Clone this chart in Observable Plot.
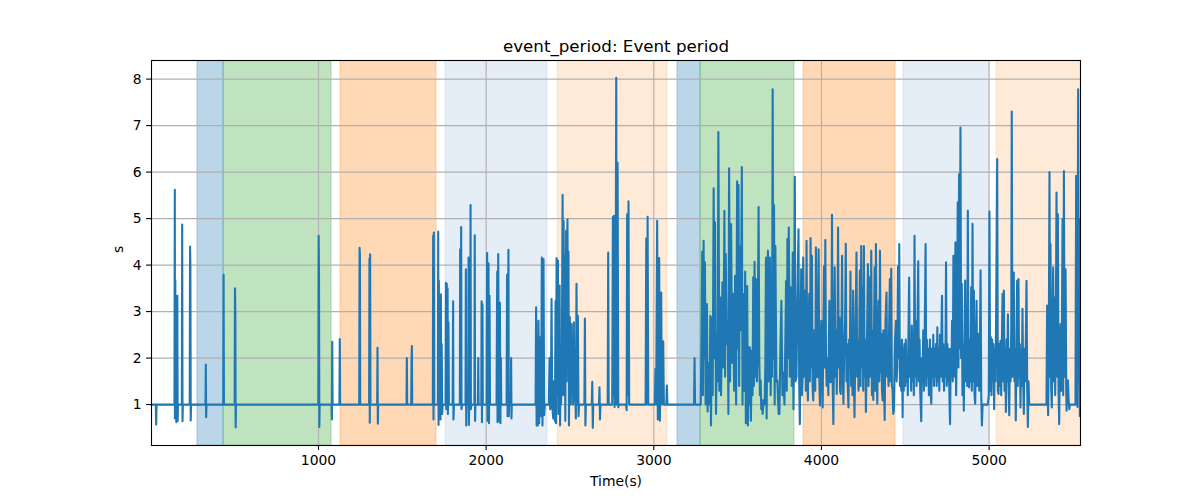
<!DOCTYPE html>
<html><head><meta charset="utf-8">
<script src="https://cdn.jsdelivr.net/npm/d3@7"></script>
<script src="https://cdn.jsdelivr.net/npm/@observablehq/plot@0.6"></script>
<style>body{margin:0;background:#fff;} svg{font-family:"DejaVu Sans",sans-serif;}</style>
</head><body><div id="chart"></div>
<script>
// Shaded periods (seconds)
const spanStarts = [278, 434, 1131, 1758, 2426, 3141, 3279, 3893, 4489, 5044];
const spanEnds   = [434, 1078, 1704, 2366, 3082, 3279, 3839, 4442, 5002, 5560];
const spanKinds  = ["A", "B", "C", "D", "E", "A", "B", "C", "D", "E"];
const kindNames  = ["A", "B", "C", "D", "E"];

const xTicks = [1000, 2000, 3000, 4000, 5000];
const yTicks = [1, 2, 3, 4, 5, 6, 7, 8];

// [time (s), event period (s)]
const seriesEarly = [
[4,1],[30,1],[32,0.57],[34,1],
[141,1],[143,5.62],[144,0.7],[146,3.68],[147,1],[151,1],[152,0.62],[154,2.87],[156,0.65],[158,3.34],[160,0.65],[162,1],
[185,1],[187,4.87],[189,0.64],[191,1],
[232,1],[234,4.40],[236,3.94],[238,0.66],[240,1],
[326,1],[328,1.86],[330,0.73],[332,1],
[432,1],[434,3.79],[436,1],
[500,1],[502,3.50],[504,2.98],[506,0.51],[508,1],
[999,1],[1001,4.63],[1003,3.81],[1005,0.52],[1007,1],
[1078,1],[1080,0.68],[1082,2.35],[1084,1],
[1125,1],[1127,2.41],[1129,1],
[1243,1],[1245,4.37],[1247,4.23],[1249,1],
[1302,1],[1304,4.14],[1306,0.61],[1308,4.23],[1310,1],
[1350,1],[1352,2.22],[1354,0.59],[1356,1],
[1525,1],[1527,2.0],[1529,1],
[1553,1],[1555,1.97],[1557,2.26],[1559,1],
[1682,1],[1684,4.63],[1686,0.68],[1688,4.70],[1690,1],
[1712,1],[1714,4.72],[1716,0.56],[1718,3.66],[1720,1.4],[1722,3.24],[1724,0.8],[1726,3.33],[1728,0.68],[1730,3.37],[1732,1.2],[1735,2.3],[1738,0.8],[1741,1],
[1758,1],[1760,3.62],[1762,0.9],[1765,3.6],[1768,1.5],[1770,3.5],[1772,0.8],[1775,2.77],[1778,1],
[1800,1],[1803,3.22],[1805,0.68],[1808,1],
[1843,1],[1845,4.34],[1848,1],[1851,4.82],[1853,0.9],[1856,1],
[1877,1],[1879,3.91],[1881,0.55],[1883,1],[1893,1],[1895,4.16],[1897,0.56],[1899,1],[1905,1],[1907,5.29],[1909,0.9],[1912,1],
[1930,1],[1932,4.64],[1934,0.65],[1936,1],
[1951,1],[1953,2.0],[1955,1],
[1971,1],[1973,3.22],[1975,0.62],[1978,3.16],[1980,1],
[2003,1],[2006,4.26],[2008,0.65],[2011,1.3],[2014,4.04],[2017,0.6],[2020,3.34],[2023,1],
[2062,1],[2066,3.86],[2068,0.62],[2072,4.24],[2075,2.0],[2078,0.65],[2082,3.19],[2085,0.6],[2088,2.0],[2090,1],
[2122,1],[2125,3.79],[2128,0.75],[2133,4.33],[2135,0.75],[2137,1],
[2147,1],[2149,2.0],[2151,0.7],[2153,1],
[2295,1],[2298,3.09],[2301,0.55],[2304,2.0],[2308,0.55],[2312,2.80],[2316,0.6],[2320,1.5],[2324,2.45],[2328,0.75],[2332,4.16],[2336,0.55],[2342,4.13],[2346,0.77],[2350,1],
[2374,1],[2378,2.0],[2382,0.9],[2386,1],[2390,3.27],[2394,1.0],[2400,0.7],[2404,1.5],[2410,0.65],[2414,3.23],[2417,0.6],[2420,4.15],[2424,1.2],[2428,4.1],[2431,0.8],[2434,2.5],[2438,3.56],[2441,0.55],[2444,2.0],[2447,1.0],[2452,2.3],[2456,5.51],[2459,1.2],[2462,4.95],[2465,2.0],[2469,4.2],[2472,0.65],[2477,4.74],[2480,1.5],[2485,4.98],[2488,2.4],[2491,4.29],[2494,0.55],[2499,2.88],[2502,1.8],[2505,1.0],[2509,2.73],[2512,1.3],[2516,2.2],[2519,1.0],[2523,2.77],[2527,1.1],[2531,1.3],[2535,0.7],[2539,3.6],[2543,1.0],[2547,2.91],[2551,0.75],[2554,1],
[2586,1],[2589,2.85],[2592,0.55],[2595,1],
[2630,1],[2633,1.49],[2636,0.5],[2639,1],
[2673,1],[2676,1.37],[2679,0.68],[2682,1],
[2725,1],[2728,4.27],[2731,1],[2752,1],[2756,5.04],[2759,1.2],[2762,5.06],[2766,0.95],[2771,1.3],[2776,8.03],[2779,1.0],[2784,6.2],[2788,0.94],[2792,1],
[2834,1],[2838,0.88],[2841,5.09],[2845,1.2],[2849,5.37],[2853,1],
[2951,1],[2955,4.57],[2959,1],[2963,5.04],[2967,1],
[3006,1],[3010,1.77],[3014,1],[3020,4.95],[3024,0.68],[3028,2.0],[3032,4.15],[3036,0.65],[3040,1.5],[3044,3.41],[3048,1.0],[3052,1.6],[3056,2.36],[3060,1],
[3075,1],[3078,1.41],[3081,1],
[3240,1],[3243,2.0],[3246,1],[3280,1]
];

const seriesGreen = [
[3285,2.5],[3289,4.29],[3293,1.2],[3297,4.52],[3301,2.0],[3305,4.06],[3309,1.0],[3313,2.6],[3317,3.16],[3321,0.85],[3325,1.9],[3329,1.6],[3333,1.0],[3337,2.91],[3341,0.55],[3347,2.87],[3351,1.2],[3357,5.65],[3361,2.0],[3365,4.92],[3371,0.8],[3377,2.5],[3381,1.5],[3385,6.86],[3391,1.3],[3397,3.3],[3401,1.2],[3405,2.2],[3409,3.63],[3415,1.8],[3421,5.17],[3425,1.6],[3429,4.24],[3435,2.3],[3441,2.79],[3445,0.8],[3449,6.08],[3455,1.5],[3461,4.88],[3467,1.9],[3473,3.38],[3479,1.3],[3485,3.77],[3491,1.0],[3497,5.80],[3501,2.2],[3505,5.72],[3509,1.4],[3513,4.4],[3519,2.6],[3525,6.11],[3529,1.0],[3533,3.38],[3539,1.3],[3545,3.86],[3549,0.6],[3553,2.0],[3557,3.55],[3561,0.55],[3565,2.23],[3569,1.0],[3573,2.23],[3579,0.65],[3585,2.16],[3589,1.2],[3593,3.74],[3597,1.4],[3601,4.07],[3605,1.6],[3609,3.70],[3615,1.5],[3620,2.6],[3625,5.25],[3629,2.0],[3633,1.2],[3637,1.52],[3641,0.9],[3645,1.1],[3649,0.8],[3653,0.98],[3657,1.1],[3661,1.0],[3665,1.8],[3669,4.16],[3673,0.7],[3677,3.0],[3681,4.31],[3685,1.5],[3689,3.0],[3693,4.16],[3697,1.2],[3701,2.5],[3705,1.6],[3709,7.78],[3713,2.0],[3717,5.29],[3721,1.0],[3725,4.41],[3731,1.5],[3737,1.52],[3741,1.1],[3745,0.8],[3749,0.8],[3755,2.2],[3761,3.23],[3767,1.2],[3773,1.69],[3779,1.0],[3785,2.5],[3789,3.66],[3793,1.3],[3797,4.56],[3801,2.0],[3805,4.81],[3811,1.6],[3817,3.52],[3823,1.4],[3829,4.27],[3833,0.9],[3837,2.5],[3841,5.90],[3845,1.5]
];

const seriesMid = [
[3851,1.6],[3855,2.94],[3863,4.77],[3867,1.5],[3871,0.58],[3875,2.2],[3879,3.91],[3883,1.2],[3887,1.52],[3891,4.16],[3897,1.6],[3903,3.45],[3907,1.3],[3911,4.52],[3915,2.0],[3919,1.09],[3923,2.4],[3927,3.38],[3931,1.5],[3935,4.58],[3939,1.8],[3943,4.2],[3947,1.4],[3951,1.09],[3955,2.6],[3959,2.23],[3963,1.3],[3967,4.38],[3971,1.8],[3975,1.59],[3979,2.8],[3983,4.34],[3987,1.5],[3991,0.98],[3995,2.2],[3999,2.80],[4003,1.6],[4007,0.94],[4011,2.5],[4015,3.97],[4019,1.8],[4023,4.54],[4027,2.0],[4031,1.4],[4035,2.0],[4041,1.2],[4047,3.23],[4051,1.6],[4055,1.48],[4059,2.4],[4063,5.08],[4067,1.4],[4071,0.58],[4075,2.2],[4079,3.95],[4083,1.6],[4087,2.6],[4091,1.23],[4095,2.2],[4099,4.81],[4103,1.8],[4107,2.87],[4111,1.3],[4115,1.23],[4119,2.4],[4123,4.2],[4127,1.7],[4131,1.02],[4135,2.0],[4141,2.8],[4145,4.46],[4149,1.5],[4153,2.30],[4157,1.4],[4161,0.94],[4165,2.4],[4169,1.8],[4173,3.86],[4177,1.4],[4181,2.66],[4185,1.2],[4189,3.45],[4193,1.8],[4197,0.73],[4203,2.5],[4209,4.27],[4213,1.6],[4217,2.37],[4221,1.3],[4225,2.2],[4229,3.88],[4233,1.4],[4237,4.41],[4241,1.8],[4245,3.52],[4249,1.3],[4253,4.41],[4257,1.6],[4261,2.4],[4265,0.84],[4271,2.2],[4277,4.02],[4281,1.4],[4285,3.74],[4289,1.6],[4293,2.2],[4297,4.31],[4301,1.2],[4305,2.59],[4309,1.1],[4313,2.4],[4317,3.95],[4321,1.3],[4325,4.45],[4329,1.8],[4333,1.02],[4337,2.5],[4341,3.23],[4345,1.5],[4349,4.31],[4353,1.7],[4357,2.52],[4361,1.3],[4365,1.09],[4369,2.6],[4373,1.4],[4377,0.67],[4382,2.8],[4388,3.41],[4392,1.6],[4396,2.30],[4400,1.4],[4404,2.8],[4408,3.70],[4412,1.5],[4416,3.92],[4420,1.4],[4424,1.33],[4428,0.8],[4432,0.87],[4438,2.3],[4444,2.80],[4448,1.5],[4452,1.8],[4456,3.97],[4460,2.0],[4464,4.45],[4468,1.4],[4472,1.80],[4476,1.3],[4480,2.4],[4484,0.73],
[4487,2.2],[4491,1.3],[4495,2.30],[4499,1.4],[4503,2.4],[4507,1.5],[4511,2.0],[4515,1.2],[4519,2.6],[4523,3.73],[4527,1.6],[4531,2.2],[4535,1.3],[4539,2.7],[4543,1.5],[4547,2.4],[4551,1.2],[4555,4.63],[4559,1.6],[4563,2.8],[4567,1.4],[4571,2.2],[4577,4.08],[4581,1.5],[4585,2.4],[4589,1.3],[4595,0.64],[4599,2.0],[4603,1.5],[4607,2.6],[4611,1.3],[4615,2.2],[4621,4.45],[4625,1.4],[4629,2.4],[4633,1.6],[4637,2.2],[4641,1.2],[4647,2.4],[4651,1.3],[4655,1.02],[4659,2.2],[4663,1.6],[4667,2.5],[4671,1.4],[4675,2.2],[4679,1.6],[4683,2.3],[4687,1.4],[4691,2.66],[4695,1.5],[4699,2.2],[4703,1.3],[4707,2.5],[4711,1.6],[4715,2.4],[4719,3.34],[4723,1.5],[4727,2.3],[4731,1.3],[4735,2.2],[4739,1.6],[4743,4.06],[4747,1.4],[4751,2.3],[4755,1.5],[4759,2.2],[4763,1.2],[4767,0.58],[4771,2.2],[4775,1.6],[4779,2.8],[4783,1.5],[4787,4.2],[4791,1.6],[4795,2.4],[4799,4.49],[4803,1.2],[4807,2.2]
];

const seriesLate = [
[4813,5.35],[4817,1.8],[4821,5.95],[4825,2.2],[4829,6.96],[4833,2.0],[4837,3.6],[4841,1.2],[4845,2.3],[4849,0.87],[4853,2.4],[4857,3.67],[4861,1.5],[4865,2.66],[4869,1.4],[4873,5.17],[4877,1.6],[4881,1.37],[4885,2.4],[4889,1.5],[4893,3.52],[4897,1.3],[4901,4.89],[4905,1.5],[4909,3.45],[4913,1.2],[4917,1.02],[4921,2.2],[4925,3.23],[4929,1.4],[4933,2.4],[4937,2.52],[4941,1.3],[4945,2.2],[4949,3.89],[4953,1.2],[4957,0.55],[4961,1.0],[4969,1],[4992,1],
[4998,1.2],[5002,5.15],[5006,1.3],[5010,2.45],[5014,1.2],[5018,2.4],[5022,1.5],[5026,2.3],[5030,0.9],[5034,2.2],[5038,1.5],[5042,3.0],[5048,6.28],[5052,1.3],[5056,1.23],[5060,2.3],[5064,1.4],[5068,2.37],[5072,1.2],[5076,2.3],[5080,3.38],[5084,1.5],[5088,3.45],[5092,1.3],[5096,2.2],[5100,0.84],[5104,2.4],[5108,1.5],[5112,2.94],[5116,1.4],[5120,0.77],[5124,2.2],[5128,1.5],[5132,2.6],[5135,7.30],[5139,1.6],[5143,2.4],[5147,3.84],[5151,1.5],[5155,2.2],[5159,0.66],[5163,2.2],[5167,3.66],[5171,1.4],[5175,3.70],[5179,1.6],[5183,2.3],[5187,0.94],[5191,2.2],[5195,1.4],[5199,3.06],[5203,1.5],[5207,0.80],[5211,2.2],[5215,1.5],[5219,2.4],[5223,3.66],[5227,1.4],[5231,0.52],[5235,1.5],[5239,1.0],
[5342,1.0],[5346,3.13],[5350,1.2],[5352,0.77],[5356,2.4],[5360,6.0],[5364,1.6],[5366,4.45],[5370,1.4],[5374,0.94],[5378,2.6],[5382,3.95],[5386,1.5],[5390,3.30],[5394,1.2],[5398,2.8],[5402,5.56],[5406,1.6],[5410,5.09],[5414,1.3],[5418,0.58],[5422,2.2],[5426,2.73],[5430,1.3],[5434,2.5],[5438,4.99],[5442,1.2],[5446,6.02],[5450,1.6],[5456,3.91],[5460,1.3],[5462,0.87],[5466,1.5],[5470,1.52],[5474,1.1],[5478,0.9],[5482,1.0],
[5515,1.0],[5519,5.92],[5523,1.2],[5527,0.95],[5531,7.78],[5535,1.5],[5539,4.99],[5541,0.75],[5546,1.2]
];

const series = [...seriesEarly, ...seriesGreen, ...seriesMid, ...seriesLate].map(([t, v]) => ({t, v}));
const spans = spanStarts.map((s, i) => ({x1: s, x2: spanEnds[i], kind: spanKinds[i]}));

const chart = Plot.plot({
  width: 1200, height: 500,
  marginLeft: 151, marginRight: 120, marginTop: 60, marginBottom: 55,
  style: {fontFamily: "DejaVu Sans, sans-serif", fontSize: "13.9px", color: "black", background: "white"},
  x: {domain: [4, 5545], label: null},
  y: {domain: [0.12, 8.4], label: null},
  color: {domain: kindNames, range: ["#1f77b4", "#2ca02c", "#ff7f0e", "#aac4e2", "#ffb97a"]},
  marks: [
    Plot.rect(spans, {x1: "x1", x2: "x2", fill: "kind", fillOpacity: 0.3, stroke: "kind", strokeOpacity: 0.3, strokeWidth: 1, clip: true}),
    Plot.gridX(xTicks, {stroke: "#b0b0b0", strokeOpacity: 1, strokeWidth: 1.1}),
    Plot.gridY(yTicks, {stroke: "#b0b0b0", strokeOpacity: 1, strokeWidth: 1.1}),
    Plot.line(series, {x: "t", y: "v", stroke: "#1f77b4", strokeWidth: 2.1, strokeLinejoin: "round", clip: true}),
    Plot.axisX(xTicks, {tickSize: 4.9, tickPadding: 4.9, fontSize: 13.9, label: null, strokeWidth: 1.1, tickFormat: d => String(d)}),
    Plot.axisY(yTicks, {tickSize: 4.9, tickPadding: 4.9, fontSize: 13.9, label: null, strokeWidth: 1.1, tickFormat: d => String(d)}),
    Plot.frame({stroke: "black", strokeWidth: 1.1}),
    Plot.text(["event_period: Event period"], {frameAnchor: "top", lineAnchor: "middle", dy: -14, fontSize: 16.7, fill: "black"}),
    Plot.text(["Time(s)"], {frameAnchor: "bottom", lineAnchor: "middle", dy: 36, fontSize: 13.9, fill: "black"}),
    Plot.text(["s"], {frameAnchor: "left", lineAnchor: "middle", dx: -33, rotate: -90, fontSize: 13.9, fill: "black"})
  ]
});
document.getElementById("chart").appendChild(chart);
</script>
</body></html>
